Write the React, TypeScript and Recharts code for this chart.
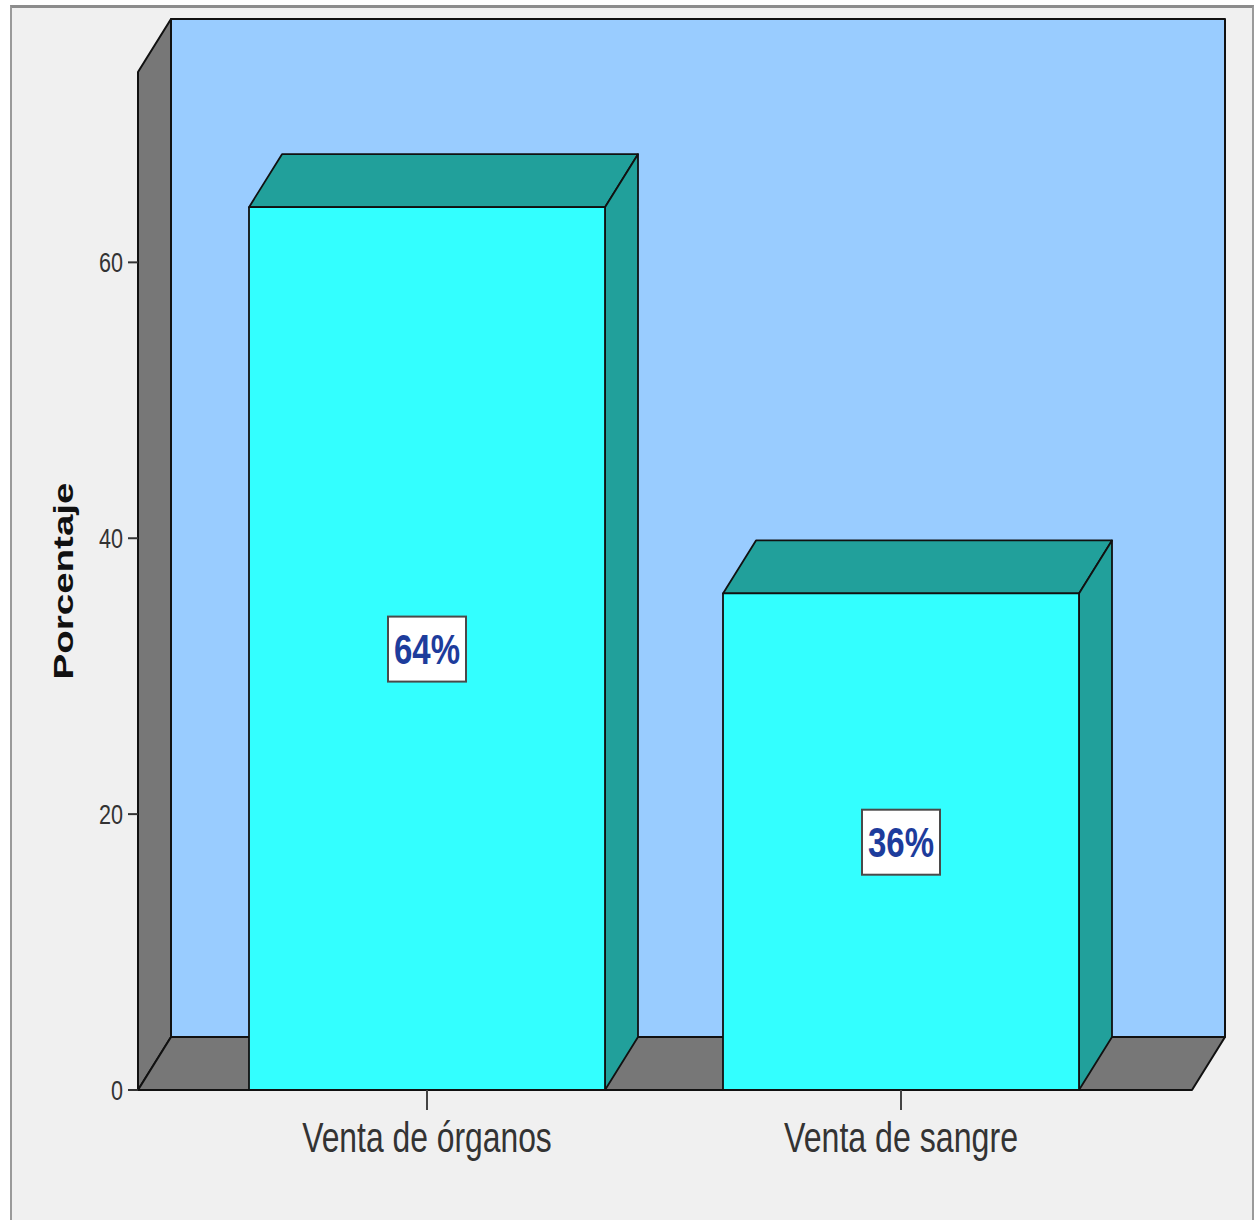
import React from 'react';
import { Bar, BarChart, LabelList, ReferenceArea, XAxis, YAxis } from 'recharts';

const categories = ['Venta de órganos', 'Venta de sangre'];
const percentages = [64, 36];
const yTicks = [0, 20, 40, 60];
const yMax = 73.8;

const data = categories.map((name, i) => ({ name, value: percentages[i] }));

const DX = 33;
const DY = 53;
const PAD_L = 52;
const PAD_R = 54;
const SANS = '"Liberation Sans", Arial, sans-serif';

// reference area only covers the padded band range, so stretch it back to the full plot
function Walls(props: any) {
  const x = props.x - PAD_L;
  const width = props.width + PAD_L + PAD_R;
  const { y, height } = props;
  const r = x + width;
  const b = y + height;
  return (
    <g stroke="#111" strokeWidth={2} strokeLinejoin="round">
      <rect x={x + DX} y={y - DY} width={width} height={height} fill="#99ccff" />
      <polygon points={`${x},${b} ${x},${y} ${x + DX},${y - DY} ${x + DX},${b - DY}`} fill="#777777" />
      <polygon points={`${x},${b} ${x + DX},${b - DY} ${r + DX},${b - DY} ${r},${b}`} fill="#777777" />
    </g>
  );
}

function Bar3D(props: any) {
  const { x, y, width, height } = props;
  const r = x + width;
  const b = y + height;
  return (
    <g stroke="#111" strokeWidth={1.8} strokeLinejoin="round">
      <polygon points={`${x},${y} ${x + DX},${y - DY} ${r + DX},${y - DY} ${r},${y}`} fill="#21a09b" />
      <polygon points={`${r},${y} ${r + DX},${y - DY} ${r + DX},${b - DY} ${r},${b}`} fill="#21a09b" />
      <rect x={x} y={y} width={width} height={height} fill="#33ffff" />
    </g>
  );
}

function PctLabel(props: any) {
  const { x, y, width, height, value } = props;
  const cx = x + width / 2;
  const cy = y + height / 2;
  return (
    <g>
      <rect x={cx - 39} y={cy - 32} width={78} height={65} fill="#ffffff" stroke="#4a4a4a" strokeWidth={2} />
      <text
        x={cx}
        y={cy + 15}
        textAnchor="middle"
        fontFamily={SANS}
        fontWeight="bold"
        fontSize={42}
        fill="#1d3c9c"
        textLength={66}
        lengthAdjust="spacingAndGlyphs"
      >
        {`${value}%`}
      </text>
    </g>
  );
}

function CategoryTick(props: any) {
  const { x, y, payload } = props;
  const len = payload.value.length * 15.6;
  return (
    <text
      x={x}
      y={y + 40}
      textAnchor="middle"
      fontFamily={SANS}
      fontSize={42}
      fill="#333"
      textLength={len}
      lengthAdjust="spacingAndGlyphs"
    >
      {payload.value}
    </text>
  );
}

function ValueTick(props: any) {
  const { x, y, payload } = props;
  const s = String(payload.value);
  return (
    <text
      x={x}
      y={y + 10}
      textAnchor="end"
      fontFamily={SANS}
      fontSize={28}
      fill="#333"
      textLength={s.length * 12}
      lengthAdjust="spacingAndGlyphs"
    >
      {s}
    </text>
  );
}

function YTitle(props: any) {
  const vb = props.viewBox || { x: 10, y: 72, width: 128, height: 1018 };
  const tx = vb.x + 63;
  const ty = vb.y + vb.height / 2;
  return (
    <text
      x={tx}
      y={ty}
      textAnchor="middle"
      transform={`rotate(-90, ${tx}, ${ty})`}
      fontFamily={SANS}
      fontWeight="bold"
      fontSize={28}
      fill="#111"
      textLength={197}
      lengthAdjust="spacingAndGlyphs"
    >
      Porcentaje
    </text>
  );
}

export default function App() {
  return (
    <div style={{ position: 'absolute', left: 0, top: 0, width: 1257, height: 1220, background: '#ffffff' }}>
      <div
        style={{
          position: 'absolute',
          left: 10,
          top: 5,
          width: 1244,
          height: 1220,
          background: '#f0f0f0',
          borderTop: '3px solid #8c8c8c',
          borderLeft: '2px solid #9a9a9a',
          borderRight: '2px solid #9a9a9a',
          boxSizing: 'border-box',
        }}
      />
      <div style={{ position: 'absolute', left: 0, top: 0 }}>
        <BarChart
          width={1257}
          height={1220}
          data={data}
          margin={{ top: 72, right: 65, bottom: 50, left: 10 }}
          barSize={356}
        >
          <ReferenceArea y1={0} y2={yMax} ifOverflow="visible" shape={<Walls />} />
          <XAxis
            dataKey="name"
            height={80}
            padding={{ left: PAD_L, right: PAD_R }}
            axisLine={false}
            tickSize={20}
            tickLine={{ stroke: '#444', strokeWidth: 2 }}
            tick={<CategoryTick />}
          />
          <YAxis
            type="number"
            domain={[0, yMax]}
            ticks={yTicks}
            width={128}
            axisLine={false}
            tickSize={10}
            tickMargin={5}
            tickLine={{ stroke: '#333', strokeWidth: 2 }}
            tick={<ValueTick />}
            label={{ content: <YTitle /> }}
          />
          <Bar dataKey="value" shape={<Bar3D />} isAnimationActive={false}>
            <LabelList dataKey="value" content={<PctLabel />} />
          </Bar>
        </BarChart>
      </div>
    </div>
  );
}
